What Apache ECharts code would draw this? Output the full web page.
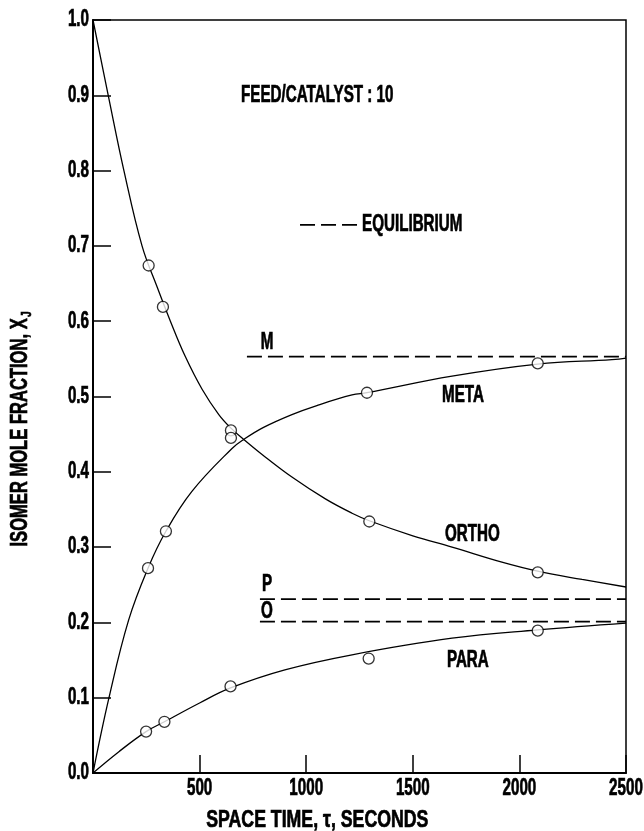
<!DOCTYPE html>
<html>
<head>
<meta charset="utf-8">
<script src="https://cdn.jsdelivr.net/npm/echarts@6/dist/echarts.min.js"></script>
<style>
    html, body { margin: 0; padding: 0; background: #fff; }
    #chart { width: 644px; height: 831px; }
</style>
</head>
<body>
<div id="chart"></div>
<script>
// curves (space time in s, mole fraction)
const orthoCurveT = [0, 75, 145, 230, 300, 363, 433, 511, 590, 647, 707, 793, 933, 1090, 1215, 1296, 1500, 1684, 1918, 2086, 2294, 2500];
const orthoCurveX = [1.0, 0.895, 0.80, 0.70, 0.646, 0.600, 0.553, 0.510, 0.476, 0.458, 0.443, 0.423, 0.393, 0.364, 0.345, 0.335, 0.315, 0.300, 0.280, 0.268, 0.257, 0.247];
const metaCurveT = [0, 75, 167, 258, 342, 464, 652, 707, 800, 933, 1050, 1215, 1285, 1684, 2086, 2434, 2500];
const metaCurveX = [0, 0.1, 0.203, 0.272, 0.321, 0.374, 0.431, 0.443, 0.459, 0.476, 0.488, 0.502, 0.505, 0.527, 0.543, 0.549, 0.551];
const paraCurveT = [0, 120, 249, 335, 500, 645, 900, 1215, 1684, 2086, 2500];
const paraCurveX = [0, 0.028, 0.055, 0.068, 0.093, 0.113, 0.137, 0.157, 0.179, 0.190, 0.199];

// measured points
const orthoPtT = [261, 328, 647, 1296, 2086];
const orthoPtX = [0.674, 0.619, 0.455, 0.334, 0.2665];
const metaPtT = [258, 342, 647, 1285, 2086];
const metaPtX = [0.272, 0.321, 0.445, 0.505, 0.544];
const paraPtT = [249, 335, 645, 1293, 2086];
const paraPtX = [0.055, 0.068, 0.115, 0.152, 0.189];

// equilibrium lines M, P, O
const eqNames = ['M', 'P', 'O'];
const eqStartT = [722, 783, 783];
const eqValue = [0.553, 0.231, 0.201];
const tauMax = 2500;

// legend dash and texts
const legendDashT = [971, 1243];
const legendDashY = 0.728;
const annoText = ['FEED/CATALYST : 10', 'EQUILIBRIUM', 'M', 'META', 'ORTHO', 'P', 'O', 'PARA'];
const annoT = [1052, 1262, 816, 1637, 1651, 816, 816, 1660];
const annoY = [0.9, 0.728, 0.571, 0.501, 0.316, 0.250, 0.214, 0.149];
const annoAlign = ['center', 'left', 'center', 'left', 'left', 'center', 'center', 'left'];

const xTickValues = [500, 1000, 1500, 2000, 2500];
const xTickLabels = ['500', '1000', '1500', '2000', '2500'];
const yTickValues = [0, 0.1, 0.2, 0.3, 0.4, 0.5, 0.6, 0.7, 0.8, 0.9, 1.0];
const yTickLabels = ['0.0', '0.1', '0.2', '0.3', '0.4', '0.5', '0.6', '0.7', '0.8', '0.9', '1.0'];
const xTitle = 'SPACE TIME, τ, SECONDS';
const yTitle = 'ISOMER MOLE FRACTION, X{sub|J}';

const FONT = "'Liberation Sans', Arial, sans-serif";
const FSIZE = 23;
const SQUEEZE = 0.66; // reference lettering is a condensed face

const zip = (a, b) => a.map((v, i) => [v, b[i]]);

const chart = echarts.init(document.getElementById('chart'), null, { renderer: 'canvas' });

const curve = (name, t, x) => ({
    name: name,
    type: 'line',
    data: zip(t, x),
    smooth: 0.4,
    showSymbol: false,
    lineStyle: { color: '#000', width: 1.3 },
    z: 2
});

const points = (name, t, x) => ({
    name: name,
    type: 'scatter',
    data: zip(t, x),
    symbol: 'circle',
    symbolSize: 11,
    itemStyle: { color: '#fff', borderColor: '#000', borderWidth: 1.3 },
    z: 4
});

const eqSeries = eqNames.map((n, i) => ({
    name: 'eq ' + n,
    type: 'line',
    data: [[eqStartT[i], eqValue[i]], [tauMax, eqValue[i]]],
    showSymbol: false,
    lineStyle: { color: '#000', width: 1.8, type: [15, 6] },
    z: 3
}));

const option = {
    animation: false,
    backgroundColor: '#fff',
    grid: {
        left: 93, right: 18, top: 20, bottom: 58,
        show: true, borderColor: '#000', borderWidth: 1.5
    },
    xAxis: {
        type: 'value',
        min: 0, max: 2500, interval: 500,
        axisLine: { lineStyle: { color: '#000', width: 2 } },
        axisTick: { inside: true, length: 18, lineStyle: { color: '#000', width: 1.5 } },
        axisLabel: { show: false },
        splitLine: { show: false }
    },
    yAxis: {
        type: 'value',
        min: 0, max: 1, interval: 0.1,
        axisLine: { lineStyle: { color: '#000', width: 2 } },
        axisTick: { inside: true, length: 18, lineStyle: { color: '#000', width: 1.5 } },
        axisLabel: { show: false },
        splitLine: { show: false }
    },
    series: [
        curve('ORTHO', orthoCurveT, orthoCurveX),
        curve('META', metaCurveT, metaCurveX),
        curve('PARA', paraCurveT, paraCurveX),
        ...eqSeries,
        {
            name: 'legend dash',
            type: 'line',
            data: legendDashT.map((t) => [t, legendDashY]),
            showSymbol: false,
            lineStyle: { color: '#000', width: 1.8, type: [15, 6] }
        },
        points('ortho pts', orthoPtT, orthoPtX),
        points('meta pts', metaPtT, metaPtX),
        points('para pts', paraPtT, paraPtX)
    ]
};

chart.setOption(option);

// lettering: condensed text placed through the chart's own scales
const px = (t, y) => chart.convertToPixel({ gridIndex: 0 }, [t, y]);
const txt = (text, p, align, vAlign, extra) => Object.assign({
    type: 'text',
    x: p[0], y: p[1],
    scaleX: SQUEEZE,
    z: 10,
    style: {
        text: text, fill: '#000', stroke: '#000', lineWidth: 0.7,
        fontFamily: FONT, fontWeight: 'bold', fontSize: FSIZE,
        align: align, verticalAlign: vAlign
    }
}, extra || {});

const graphics = [];
const axisX0 = px(0, 0)[0];
const axisY0 = px(0, 0)[1];

yTickValues.forEach((v, i) => {
    graphics.push(txt(yTickLabels[i], [axisX0 - 4, px(0, v)[1]], 'right', 'middle'));
});
xTickValues.forEach((v, i) => {
    graphics.push(txt(xTickLabels[i], [px(v, 0)[0], axisY0 + 4], 'center', 'top'));
});
annoText.forEach((t, i) => {
    graphics.push(txt(t, px(annoT[i], annoY[i]), annoAlign[i], 'middle'));
});

// axis titles
const xTitlePos = [px(1052, 0)[0], axisY0 + 48];
graphics.push(txt(xTitle, xTitlePos, 'center', 'middle', { scaleX: 0.77 }));
const yTitlePos = [axisX0 - 72, px(0, 0.457)[1]];
graphics.push({
    type: 'text',
    x: yTitlePos[0], y: yTitlePos[1],
    rotation: Math.PI / 2,
    scaleX: 0.72,
    z: 10,
    style: {
        text: yTitle, fill: '#000', stroke: '#000', lineWidth: 0.7,
        fontFamily: FONT, fontWeight: 'bold', fontSize: FSIZE,
        align: 'center', verticalAlign: 'middle',
        rich: {
            sub: { fontFamily: FONT, fontWeight: 'bold', fontSize: 14, fill: '#000', verticalAlign: 'bottom', padding: [12, 0, 0, 2] }
        }
    }
});

chart.setOption({ graphic: graphics });
</script>
</body>
</html>
